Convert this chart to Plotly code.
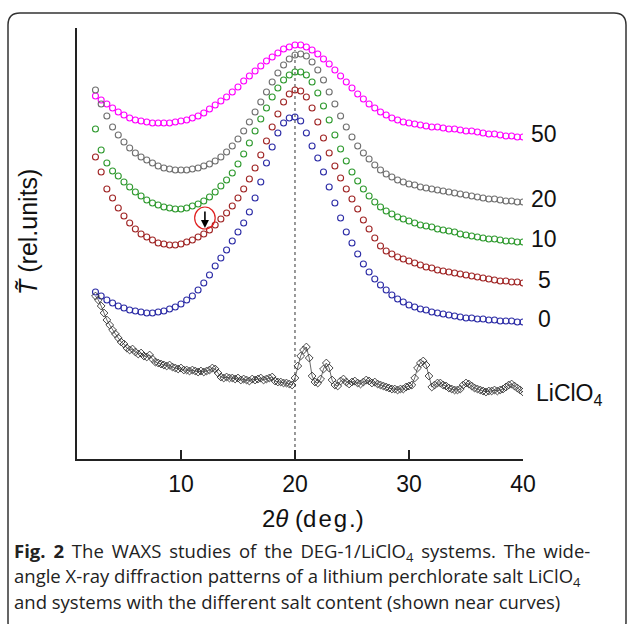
import numpy as np
import plotly.graph_objects as go

# ---------------- data (relative units) ----------------
y_0 = [167, 163, 159, 156, 153, 151, 149, 148, 147, 146, 146, 147, 148, 150, 152, 155,
       159, 163, 169, 176, 184, 193, 201, 209, 218, 227, 236, 247, 261, 277, 296, 312,
       326, 336, 341, 342, 338, 326, 313, 301, 287, 272, 256, 241, 227, 216, 205, 195,
       187, 180, 174, 169, 164, 160, 157, 154, 152, 150, 149, 147, 146, 145, 144, 143,
       142, 141, 141, 140, 140, 139, 139, 138, 138, 138, 137, 137]
y_5 = [302, 287, 270, 261, 251, 243, 236, 230, 225, 222, 219, 216, 215, 214, 214, 215,
       217, 219, 222, 225, 229, 234, 240, 246, 253, 261, 270, 280, 291, 304, 318, 332,
       345, 357, 365, 369, 368, 362, 351, 337, 321, 306, 293, 281, 270, 260, 250, 239,
       230, 221, 213, 208, 205, 202, 200, 198, 196, 194, 192, 191, 189, 188, 187, 186,
       185, 184, 183, 182, 181, 180, 179, 178, 178, 177, 177, 176]
y_10 = [330, 309, 296, 288, 283, 277, 272, 267, 263, 259, 256, 254, 252, 251, 250, 250,
        251, 253, 255, 258, 262, 267, 273, 279, 286, 295, 305, 316, 328, 340, 351, 362,
        371, 379, 384, 387, 387, 384, 377, 366, 353, 339, 324, 310, 298, 287, 278, 270,
        263, 257, 252, 248, 245, 242, 240, 238, 236, 234, 233, 232, 230, 229, 228, 227,
        225, 224, 223, 222, 221, 220, 220, 219, 218, 218, 217, 217]
y_20 = [369, 355, 343, 332, 324, 317, 311, 306, 302, 299, 296, 293, 291, 290, 289, 289,
        289, 290, 291, 293, 295, 298, 302, 307, 313, 320, 328, 337, 347, 357, 367, 377,
        386, 394, 400, 404, 405, 403, 397, 389, 379, 367, 355, 343, 332, 322, 313, 306,
        300, 294, 289, 285, 282, 279, 277, 275, 274, 272, 271, 270, 269, 268, 267, 266,
        265, 264, 263, 262, 261, 260, 260, 259, 258, 258, 257, 257]
y_50 = [363, 359, 355, 351, 347, 344, 341, 339, 338, 337, 336, 336, 336, 336, 337, 338,
        339, 341, 343, 346, 350, 354, 358, 362, 367, 372, 378, 383, 388, 393, 398, 402,
        406, 410, 412, 414, 414, 412, 409, 405, 400, 395, 389, 383, 377, 371, 365, 360,
        355, 351, 347, 344, 341, 339, 337, 336, 335, 334, 333, 332, 332, 331, 330, 330,
        329, 328, 328, 327, 326, 325, 325, 324, 323, 323, 322, 322]
y_salt = [163, 159, 153, 146, 139, 134, 129, 125, 121, 117, 115, 111, 109, 110, 107, 105,
          106, 103, 102, 104, 100, 97, 96, 95, 94, 93, 94, 92, 91, 90, 91, 89,
          89, 88, 89, 88, 87, 88, 87, 88, 89, 91, 90, 86, 82, 81, 82, 81,
          81, 80, 81, 79, 80, 79, 78, 80, 79, 80, 81, 79, 80, 81, 82, 78,
          77, 77, 76, 76, 75, 74, 81, 93, 103, 109, 112, 101, 83, 77, 76, 80,
          90, 96, 91, 79, 74, 73, 78, 80, 77, 75, 77, 78, 76, 75, 77, 79,
          78, 76, 77, 75, 74, 73, 72, 71, 70, 70, 69, 70, 70, 72, 73, 74,
          81, 91, 96, 98, 94, 83, 72, 74, 76, 76, 74, 73, 71, 70, 69, 69,
          70, 74, 76, 75, 73, 71, 70, 69, 68, 67, 68, 68, 69, 68, 69, 70,
          72, 74, 75, 73, 71, 69, 67]

x_start, x_end = 2.5, 40.0
series = [
    ("50", y_50, "#ff00ff"),
    ("20", y_20, "#707070"),
    ("10", y_10, "#2f9a2f"),
    ("5", y_5, "#a02626"),
    ("0", y_0, "#2c2ca6"),
]
salt_label = "LiClO<sub>4</sub>"
x_ticks = [10, 20, 30, 40]
peak_ref = 20
arrow_x, arrow_y = 12.1, 231

# ---------------- geometry ----------------
W, H = 629, 624
L, R, T, B = 77, 523, 28, 459   # plot area in pixels


def px(xp):
    return (xp - L) / (R - L)


def py(yp):
    return (B - yp) / (B - T)


fig = go.Figure()

for name, vals, col in series:
    xs = np.linspace(x_start, x_end, len(vals))
    fig.add_trace(go.Scatter(
        x=xs, y=vals, mode="markers", name=name,
        marker=dict(symbol="circle-open", size=6, color=col, line=dict(width=1.1, color=col)),
        showlegend=False, hoverinfo="skip"))

xs_salt = np.linspace(x_start, x_end, len(y_salt))
fig.add_trace(go.Scatter(
    x=xs_salt, y=y_salt, mode="lines+markers", name="LiClO4",
    line=dict(color="#444444", width=0.8),
    marker=dict(symbol="diamond-open", size=6, color="#333333", line=dict(width=0.9, color="#333333")),
    showlegend=False, hoverinfo="skip"))

annotations = []
label_font = dict(family="Liberation Sans, Arial", size=23, color="#111111")
for name, vals, col in series:
    annotations.append(dict(x=x_end, y=vals[-1] + 3, xref="x", yref="y", text=name,
                            showarrow=False, xanchor="center", yanchor="middle",
                            xshift=21, font=label_font))
annotations.append(dict(x=x_end, y=y_salt[-1] - 2, xref="x", yref="y", text=salt_label,
                        showarrow=False, xanchor="left", yanchor="middle",
                        xshift=11, font=label_font))

# arrow marking the feature on curve 5
annotations.append(dict(x=arrow_x, y=arrow_y, xref="x", yref="y", text="",
                        showarrow=True, arrowhead=2, arrowsize=1, arrowwidth=1.6,
                        arrowcolor="#000000", ax=0, ay=-18))

# axis titles
title_font = dict(family="Liberation Sans, Arial", size=24, color="#111111")
annotations.append(dict(x=px(313), y=py(518), xref="paper", yref="paper",
                        text="2<i>θ</i> (d\u200ae\u200ag\u200a.)", showarrow=False,
                        xanchor="center", yanchor="middle", font=title_font))
annotations.append(dict(x=px(28), y=py(232), xref="paper", yref="paper",
                        text="<i>T̃</i> (rel.units)", showarrow=False, textangle=-90,
                        xanchor="center", yanchor="middle",
                        font=dict(family="Liberation Sans, Arial", size=25, color="#111111")))

# caption (justified in the reference: first line gets wider word gaps)
cap_font = dict(family="Open Sans", size=18.5, color="#222222")
caption = [
    "<b>Fig. 2</b> The WAXS studies of the DEG-1/LiClO<sub>4</sub> systems. The wide-",
    "angle X-ray diffraction patterns of a lithium perchlorate salt LiClO<sub>4</sub>",
    "and systems with the different salt content (shown near curves)",
]
gap = [" \u2009", " ", " "]
for i, line in enumerate(caption):
    annotations.append(dict(x=px(12), y=py(552 + 24.5 * i), xref="paper", yref="paper",
                            text=line.replace(" ", gap[i]), showarrow=False,
                            xanchor="left", yanchor="middle", font=cap_font))

# frame with rounded corners
fl, ft, fr, fb, rr = 8, 13, 626, 634, 12
path = (f"M {px(fl)} {py(ft + rr)} Q {px(fl)} {py(ft)} {px(fl + rr)} {py(ft)} "
        f"L {px(fr - rr)} {py(ft)} Q {px(fr)} {py(ft)} {px(fr)} {py(ft + rr)} "
        f"L {px(fr)} {py(fb - rr)} Q {px(fr)} {py(fb)} {px(fr - rr)} {py(fb)} "
        f"L {px(fl + rr)} {py(fb)} Q {px(fl)} {py(fb)} {px(fl)} {py(fb - rr)} Z")

shapes = [
    dict(type="path", path=path, xref="paper", yref="paper",
         line=dict(color="#333333", width=1.5)),
    dict(type="line", x0=peak_ref, x1=peak_ref, y0=0, y1=max(y_50) - 5, xref="x", yref="y",
         line=dict(color="#555555", width=1.2, dash="dot"), layer="below"),
    dict(type="circle", xref="x", yref="y", x0=arrow_x - 0.9, x1=arrow_x + 0.9,
         y0=arrow_y + 10 - 11, y1=arrow_y + 10 + 11, line=dict(color="#e02020", width=1.2)),
]

fig.update_layout(
    width=W, height=H,
    margin=dict(l=L, r=W - R, t=T, b=H - B, pad=0),
    paper_bgcolor="white", plot_bgcolor="white",
    annotations=annotations, shapes=shapes,
    xaxis=dict(range=[0.88, 40], showline=True, linecolor="#222222", linewidth=1.5,
               ticks="inside", ticklen=9, tickwidth=1.5, tickcolor="#222222",
               tickvals=x_ticks, showgrid=False, zeroline=False,
               tickfont=dict(family="Liberation Sans, Arial", size=23, color="#111111"),
               ticklabelstandoff=4),
    yaxis=dict(range=[0, B - T], showline=True, linecolor="#222222", linewidth=1.5,
               showticklabels=False, ticks="", showgrid=False, zeroline=False),
)

fig.write_html("out.html", config={"displayModeBar": False},
               post_script="document.body.style.margin='0px';document.body.style.overflow='hidden';")
